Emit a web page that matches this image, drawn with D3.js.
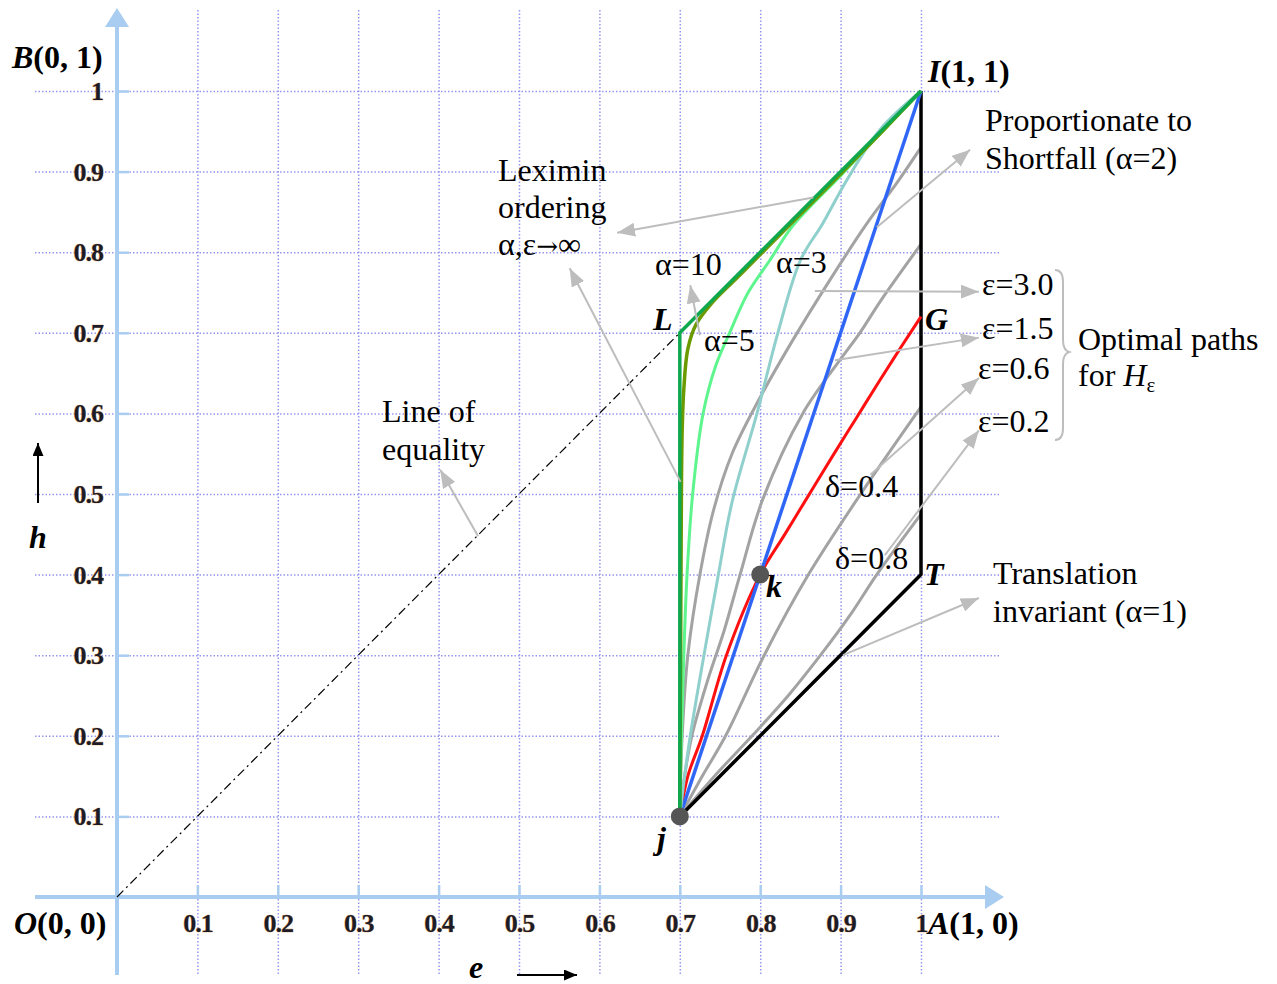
<!DOCTYPE html>
<html>
<head>
<meta charset="utf-8">
<script src="https://cdn.jsdelivr.net/npm/d3@7"></script>
<style>
  body { margin: 0; background: #fff; }
  svg text { font-family: "Liberation Serif", "Times New Roman", serif; }
</style>
</head>
<body>
<svg id="chart" width="1277" height="984"></svg>
<script>
// ===============================
// Data (e, h)
// ===============================
const tickValues = [0.1, 0.2, 0.3, 0.4, 0.5, 0.6, 0.7, 0.8, 0.9, 1];

const pointJ = [0.7, 0.1];
const pointK = [0.8, 0.4];

// leximin ordering (alpha, eps -> infinity)
const leximinPath = [[0.7, 0.1], [0.7, 0.7], [1, 1]];
// translation invariant (alpha = 1)
const translationPath = [[0.7, 0.1], [1, 0.4], [1, 1]];
// proportionate to shortfall (alpha = 2)
const shortfallPath = [[0.7, 0.1], [1, 1]];

const alpha10 = [[0.7, 0.1], [0.701, 0.3], [0.702, 0.5], [0.703, 0.58], [0.705, 0.63], [0.71, 0.68],
  [0.72, 0.71], [0.74, 0.737], [0.77, 0.767], [0.8, 0.797], [0.85, 0.847], [0.9, 0.897], [0.95, 0.948], [1, 1]];
const alpha5 = [[0.7, 0.1], [0.702, 0.2], [0.705, 0.3], [0.709, 0.4], [0.716, 0.5], [0.729, 0.6],
  [0.745, 0.66], [0.762, 0.7], [0.785, 0.75], [0.812, 0.79], [0.84, 0.832], [0.9, 0.895], [0.95, 0.948], [1, 1]];
const alpha3 = [[0.7, 0.1], [0.706, 0.15], [0.713, 0.2], [0.729, 0.294], [0.748, 0.4], [0.765, 0.49],
  [0.796, 0.6], [0.822, 0.7], [0.85, 0.79], [0.878, 0.836], [0.908, 0.89], [0.949, 0.952], [1, 1]];

const eps30 = [[0.7, 0.1], [0.703, 0.2], [0.71, 0.3], [0.725, 0.4], [0.742, 0.48], [0.765, 0.55],
  [0.8, 0.62], [0.84, 0.69], [0.887, 0.766], [0.933, 0.836], [0.97, 0.886], [1, 0.93]];
const eps15 = [[0.7, 0.1], [0.706, 0.15], [0.715, 0.2], [0.735, 0.27], [0.755, 0.33], [0.775, 0.4],
  [0.803, 0.493], [0.853, 0.6], [0.899, 0.666], [0.924, 0.7], [0.95, 0.74], [1, 0.81]];
const eps06 = [[0.7, 0.1], [0.728, 0.15], [0.757, 0.2], [0.805, 0.3], [0.86, 0.4], [0.925, 0.5], [1, 0.608]];
const eps02 = [[0.7, 0.1], [0.745, 0.152], [0.79, 0.2], [0.835, 0.25], [0.875, 0.3], [0.912, 0.35],
  [0.945, 0.4], [1, 0.475]];

const redPath = [[0.7, 0.1], [0.71, 0.15], [0.728, 0.2], [0.758, 0.3], [0.8, 0.4], [0.83, 0.449],
  [0.86, 0.498], [0.89, 0.547], [0.92, 0.595], [0.95, 0.643], [0.975, 0.682], [1, 0.72]];

// ===============================
// Setup
// ===============================
const svg = d3.select("#chart");

const x = d3.scaleLinear().domain([0, 1]).range([117, 921]);
const y = d3.scaleLinear().domain([0, 1]).range([897, 91]);

const axisBlue = "#a9cdf0";
const gridBlue = "#9696f0";

// arrow markers
const defs = svg.append("defs");
function marker(id, color, w, h) {
  defs.append("marker")
    .attr("id", id)
    .attr("markerUnits", "userSpaceOnUse")
    .attr("markerWidth", w)
    .attr("markerHeight", h)
    .attr("refX", w)
    .attr("refY", h / 2)
    .attr("orient", "auto")
    .append("path")
    .attr("d", `M0,0L${w},${h / 2}L0,${h}Z`)
    .attr("fill", color);
}
marker("grayArrow", "#bdbdbd", 18, 14);
marker("blackArrow", "#000", 13, 11);

// ===============================
// Grid
// ===============================
svg.append("g")
  .attr("transform", "translate(0,10)")
  .call(d3.axisBottom(x).tickValues(tickValues).tickSize(965).tickFormat(""))
  .call(g => g.select(".domain").remove())
  .selectAll("line")
  .attr("stroke", gridBlue)
  .attr("stroke-width", 1.5)
  .attr("stroke-dasharray", "1.5,2");

svg.append("g")
  .attr("transform", "translate(35,0)")
  .call(d3.axisRight(y).tickValues(tickValues).tickSize(965).tickFormat(""))
  .call(g => g.select(".domain").remove())
  .selectAll("line")
  .attr("stroke", gridBlue)
  .attr("stroke-width", 1.5)
  .attr("stroke-dasharray", "1.5,2");

// ===============================
// Axes
// ===============================
svg.append("line")
  .attr("x1", x(0)).attr("x2", x(0)).attr("y1", 975).attr("y2", 24)
  .attr("stroke", axisBlue).attr("stroke-width", 4);
svg.append("path")
  .attr("d", `M${x(0)},8L${x(0) + 12},27L${x(0) - 12},27Z`)
  .attr("fill", axisBlue);

svg.append("line")
  .attr("x1", 35).attr("x2", 990).attr("y1", y(0)).attr("y2", y(0))
  .attr("stroke", axisBlue).attr("stroke-width", 4);
svg.append("path")
  .attr("d", `M1004,${y(0)}L985,${y(0) - 12}L985,${y(0) + 12}Z`)
  .attr("fill", axisBlue);

// small inner ticks
svg.append("g")
  .attr("transform", `translate(0,${y(0)})`)
  .call(d3.axisBottom(x).tickValues(tickValues).tickSize(-12).tickFormat(""))
  .call(g => g.select(".domain").remove())
  .selectAll("line").attr("stroke", axisBlue).attr("stroke-width", 2.5);

svg.append("g")
  .attr("transform", `translate(${x(0)},0)`)
  .call(d3.axisLeft(y).tickValues(tickValues).tickSize(-12).tickFormat(""))
  .call(g => g.select(".domain").remove())
  .selectAll("line").attr("stroke", axisBlue).attr("stroke-width", 2.5);

// tick labels
const fmt = d => (d === 1 ? "1" : d.toFixed(1));

const xLab = svg.append("g")
  .attr("transform", `translate(0,${y(0)})`)
  .call(d3.axisBottom(x).tickValues(tickValues).tickSize(0).tickFormat(fmt));
xLab.select(".domain").remove();
xLab.selectAll("text")
  .attr("y", 35).attr("dy", 0)
  .attr("font-size", 26).attr("font-weight", "bold").attr("letter-spacing", -1)
  .attr("fill", "#1c1c28").attr("stroke", "#e0a060").attr("stroke-width", 0.7)
  .attr("paint-order", "stroke");

const yLab = svg.append("g")
  .attr("transform", "translate(103,0)")
  .call(d3.axisLeft(y).tickValues(tickValues).tickSize(0).tickFormat(fmt));
yLab.select(".domain").remove();
yLab.selectAll("text")
  .attr("x", 0).attr("dy", "0.33em")
  .attr("font-size", 26).attr("font-weight", "bold").attr("letter-spacing", -1)
  .attr("fill", "#1c1c28").attr("stroke", "#e0a060").attr("stroke-width", 0.7)
  .attr("paint-order", "stroke");

// ===============================
// Line of equality
// ===============================
svg.append("line")
  .attr("x1", x(0)).attr("y1", y(0)).attr("x2", x(0.7)).attr("y2", y(0.7))
  .attr("stroke", "#000").attr("stroke-width", 1.2)
  .attr("stroke-dasharray", "9,4,2,4");

// ===============================
// Paths
// ===============================
const straight = d3.line().x(d => x(d[0])).y(d => y(d[1]));
const smooth = d3.line().x(d => x(d[0])).y(d => y(d[1])).curve(d3.curveCatmullRom.alpha(0.5));

function draw(data, gen, color, width) {
  svg.append("path")
    .datum(data)
    .attr("d", gen)
    .attr("fill", "none")
    .attr("stroke", color)
    .attr("stroke-width", width)
    .attr("stroke-linejoin", "round");
}

draw(eps02, smooth, "#a3a3a3", 3);
draw(eps06, smooth, "#a3a3a3", 3);
draw(eps15, smooth, "#a3a3a3", 3);
draw(eps30, smooth, "#a3a3a3", 3);
draw(translationPath, straight, "#000", 3.5);
draw(redPath, smooth, "#ff1010", 3);
draw(shortfallPath, straight, "#2f66f5", 3.5);
draw(alpha3, smooth, "#8fd0cc", 3);
draw(alpha5, smooth, "#5ef58e", 3);
draw(alpha10, smooth, "#6b9a00", 3.5);
draw(leximinPath, straight, "#0fa84f", 3.5);

// points j and k
svg.selectAll("circle.pt")
  .data([pointJ, pointK])
  .enter()
  .append("circle")
  .attr("class", "pt")
  .attr("cx", d => x(d[0]))
  .attr("cy", d => y(d[1]))
  .attr("r", 9)
  .attr("fill", "#555");

// ===============================
// Annotation arrows (in e,h units)
// ===============================
const arrows = [
  [[0.866, 0.868], [0.622, 0.824]],
  [[0.701, 0.515], [0.563, 0.780]],
  [[0.725, 0.697], [0.713, 0.759]],
  [[0.449, 0.448], [0.402, 0.530]],
  [[0.945, 0.831], [1.061, 0.927]],
  [[0.868, 0.752], [1.072, 0.751]],
  [[0.893, 0.666], [1.072, 0.694]],
  [[0.937, 0.524], [1.072, 0.644]],
  [[0.955, 0.424], [1.072, 0.579]],
  [[0.903, 0.300], [1.072, 0.371]]
];
svg.selectAll("line.anno")
  .data(arrows)
  .enter()
  .append("line")
  .attr("class", "anno")
  .attr("x1", d => x(d[0][0])).attr("y1", d => y(d[0][1]))
  .attr("x2", d => x(d[1][0])).attr("y2", d => y(d[1][1]))
  .attr("stroke", "#bdbdbd").attr("stroke-width", 2)
  .attr("marker-end", "url(#grayArrow)");

// brace for the H_eps paths
svg.append("path")
  .attr("d", "M1055,270 Q1063,270 1063,282 L1063,340 Q1063,350 1069,352 Q1063,354 1063,364 L1063,428 Q1063,440 1055,440")
  .attr("fill", "none").attr("stroke", "#bdbdbd").attr("stroke-width", 2);

// h and e direction arrows
svg.append("line").attr("x1", 38).attr("y1", 503).attr("x2", 38).attr("y2", 443)
  .attr("stroke", "#000").attr("stroke-width", 2).attr("marker-end", "url(#blackArrow)");
svg.append("line").attr("x1", 517).attr("y1", 975).attr("x2", 577).attr("y2", 975)
  .attr("stroke", "#000").attr("stroke-width", 2).attr("marker-end", "url(#blackArrow)");

// ===============================
// Text labels
// ===============================
function label(px, py, parts, size) {
  const t = svg.append("text")
    .attr("x", px).attr("y", py)
    .attr("font-size", size || 32)
    .attr("fill", "#000");
  parts.forEach(p => {
    const s = t.append("tspan").text(p.t);
    if (p.b) s.attr("font-weight", "bold");
    if (p.i) s.attr("font-style", "italic");
    if (p.sub) s.attr("font-size", 21).attr("dy", 6);
    if (p.sym) s.attr("font-family", "DejaVu Serif").attr("font-size", 26);
  });
  return t;
}

label(12, 68, [{ t: "B", b: 1, i: 1 }, { t: "(0, 1)", b: 1 }]);
label(928, 82, [{ t: "I", b: 1, i: 1 }, { t: "(1, 1)", b: 1 }]);
label(14, 934, [{ t: "O", b: 1, i: 1 }, { t: "(0, 0)", b: 1 }]);
label(928, 934, [{ t: "A", b: 1, i: 1 }, { t: "(1, 0)", b: 1 }]);
label(653, 330, [{ t: "L", b: 1, i: 1 }]);
label(925, 330, [{ t: "G", b: 1, i: 1 }]);
label(924, 585, [{ t: "T", b: 1, i: 1 }]);
label(766, 597, [{ t: "k", b: 1, i: 1 }]);
label(657, 849, [{ t: "j", b: 1, i: 1 }]);
label(29, 548, [{ t: "h", b: 1, i: 1 }]);
label(469, 978, [{ t: "e", b: 1, i: 1 }]);

label(985, 131, [{ t: "Proportionate to" }]);
label(985, 169, [{ t: "Shortfall (α=2)" }]);
label(498, 181, [{ t: "Leximin" }]);
label(498, 218, [{ t: "ordering" }]);
label(498, 255, [{ t: "α,ε" }, { t: "→", sym: 1 }, { t: "∞" }]);
label(655, 275, [{ t: "α=10" }]);
label(776, 273, [{ t: "α=3" }]);
label(704, 351, [{ t: "α=5" }]);
label(982, 295, [{ t: "ε=3.0" }]);
label(982, 339, [{ t: "ε=1.5" }]);
label(978, 379, [{ t: "ε=0.6" }]);
label(978, 432, [{ t: "ε=0.2" }]);
label(1078, 350, [{ t: "Optimal paths" }]);
label(1078, 386, [{ t: "for " }, { t: "H", i: 1 }, { t: "ε", sub: 1 }]);
label(382, 422, [{ t: "Line of" }]);
label(382, 460, [{ t: "equality" }]);
label(825, 497, [{ t: "δ=0.4" }]);
label(835, 569, [{ t: "δ=0.8" }]);
label(993, 584, [{ t: "Translation" }]);
label(993, 622, [{ t: "invariant (α=1)" }]);
</script>
</body>
</html>
